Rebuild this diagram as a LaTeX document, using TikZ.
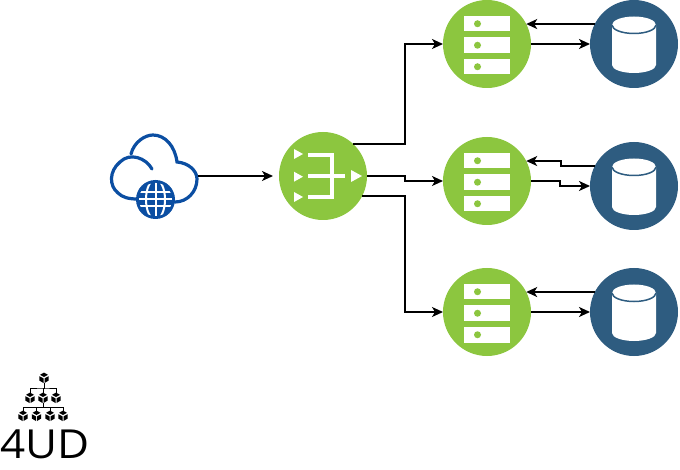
\documentclass[tikz,border=0pt]{standalone}
\usepackage{fontspec}
\newfontfamily\logofont{Open Sans}
\usetikzlibrary{positioning,arrows.meta}
\definecolor{srvgreen}{HTML}{8CC63F}
\definecolor{dbblue}{HTML}{2E5C80}
\definecolor{cloudblue}{HTML}{0B4EA2}
\tikzset{
  srvdisc/.style={circle, fill=srvgreen, minimum size=88pt, inner sep=0pt, outer sep=0pt},
  dbdisc/.style={circle, fill=dbblue, minimum size=88pt, inner sep=0pt, outer sep=0pt},
  link/.style={-{Stealth[length=11pt,width=10pt,inset=3pt]}, line width=1.6pt, black},
  treeline/.style={line width=0.9pt, black},
  treenode/.style={circle, minimum size=10pt, inner sep=0pt, outer sep=0pt}
}
% three white slots with a dot
\newcommand{\ServerIcon}[1]{
  \begin{scope}[shift={(#1)}, y=-1pt]
    \foreach \slot in {-28,-6.5,15}{
      \fill[white] (-23,\slot) rectangle (23,\slot+15.5);
      \fill[srvgreen] (-9.5,\slot+7.75) circle (3.5);
    }
  \end{scope}
}
% white cylinder
\newcommand{\DbIcon}[1]{
  \begin{scope}[shift={(#1)}, y=-1pt]
    \fill[white] (-22,-19) arc[start angle=180, end angle=360, x radius=22, y radius=8.5]
      -- (22,21) arc[start angle=0, end angle=180, x radius=22, y radius=8] -- cycle;
    \draw[dbblue, line width=1.5pt] (-22,-19) arc[start angle=180, end angle=0, x radius=22, y radius=8.5];
  \end{scope}
}
% small cube of the logo
\newcommand{\TreeCube}[1]{
  \begin{scope}[shift={(#1)}, x=1pt, y=1pt]
    \fill[black] (0,5.4) -- (4,3.2) -- (0,1) -- (-4,3.2) -- cycle;
    \fill[black] (-4.6,1.8) -- (-0.5,-0.4) -- (-0.5,-5) -- (-4.6,-2.6) -- cycle;
    \fill[black] (4.6,1.8) -- (0.5,-0.4) -- (0.5,-5) -- (4.6,-2.6) -- cycle;
  \end{scope}
}
\begin{document}
\begin{tikzpicture}[x=1pt, y=1pt]
  \useasboundingbox (0,0) rectangle (680,469);

  % balancer and servers
  \node[srvdisc](Balancer) at (323,293){};
  \node[srvdisc, right=76pt of Balancer, yshift=-5pt](SrvB){};
  \node[srvdisc, above=49pt of SrvB](SrvA){};
  \node[srvdisc, below=43pt of SrvB](SrvC){};

  % databases
  \node[dbdisc, right=59pt of SrvA](DbA){};
  \node[dbdisc, right=59pt of SrvB, yshift=-5pt](DbB){};
  \node[dbdisc, right=59pt of SrvC](DbC){};

  \ServerIcon{SrvA}
  \ServerIcon{SrvB}
  \ServerIcon{SrvC}
  \DbIcon{DbA}
  \DbIcon{DbB}
  \DbIcon{DbC}

  % balancer icon
  \begin{scope}[shift={(Balancer)}, y=-1pt]
    \foreach \row in {-22,0.7,21}{
      \fill[white] (-29,\row-5) -- (-20,\row) -- (-29,\row+5) -- cycle;
    }
    \fill[white] (28,-6) -- (39,0) -- (28,6) -- cycle;
    \draw[white, line width=4pt] (-15,-20.5) -- (9,-20.5) -- (9,21) -- (-15,21);
    \draw[white, line width=4pt] (-15,0) -- (22,0);
  \end{scope}

  % cloud
  \node[minimum width=86pt, minimum height=84pt, inner sep=0pt, outer sep=0pt](Cloud) at (155,293){};
  \begin{scope}[shift={(0,469)}, y=-1pt]
    \draw[cloudblue, line width=3.2pt, line cap=round]
      (152,169) .. controls (146,158) and (130,152) .. (120,162)
      .. controls (109,171) and (109,186) .. (118,193)
      .. controls (122,197) and (128,199) .. (137,199);
    \draw[cloudblue, line width=3.2pt, line cap=round]
      (131,154) .. controls (134,142) and (145,135) .. (153,135)
      .. controls (165,135) and (175,146) .. (177,162)
      .. controls (189,163) and (197,171) .. (197,179)
      .. controls (197,192) and (187,202) .. (175,202);
    \fill[cloudblue] (155.5,199.5) circle (19.5);
    \begin{scope}
      \clip (155.5,199.5) circle (16.5);
      \draw[white, line width=2pt] (155.5,180) -- (155.5,219);
      \draw[white, line width=2pt] (155.5,199.5) ellipse (9.5 and 20);
      \foreach \lat in {-7,0,7}{
        \draw[white, line width=2pt] (135,199.5+\lat) -- (176,199.5+\lat);
      }
    \end{scope}
  \end{scope}

  % connectors
  \coordinate (BendA) at (405,350);
  \coordinate (BendB) at (405,291);
  \coordinate (BendC) at (405,230);
  \coordinate (StepUp) at (561,305);
  \coordinate (StepDown) at (560,285);
  \draw[link, shorten >=6pt] (Cloud.east) -- (Balancer.west);
  \draw[link] (Balancer.47) -| (BendA) |- (SrvA.west);
  \draw[link] (Balancer.east) -| (BendB) |- (SrvB.west);
  \draw[link] (Balancer.-27) -| (BendC) |- (SrvC.west);
  \draw[link] (DbA.153) -- (SrvA.27);
  \draw[link] (SrvA.east) -- (DbA.west);
  \draw[link] (DbB.153) -| (StepUp) |- (SrvB.27);
  \draw[link] (SrvB.east) -| (StepDown) |- (DbB.west);
  \draw[link] (DbC.153) -- (SrvC.27);
  \draw[link] (SrvC.east) -- (DbC.west);

  % logo
  \node[treenode](TreeTop) at (44,91){};
  \node[treenode](TreeL) at (30,71){};
  \node[treenode](TreeM) at (43,71){};
  \node[treenode](TreeR) at (56,71){};
  \node[treenode](LeafA) at (23,53){};
  \node[treenode](LeafB) at (36.5,53){};
  \node[treenode](LeafC) at (50,53){};
  \node[treenode](LeafD) at (63,53){};
  \coordinate (BarUp) at (43,81);
  \coordinate (BarLow) at (43,62);
  \foreach \kid in {TreeL,TreeM,TreeR}{
    \draw[treeline] (TreeTop.south) |- (BarUp) -| (\kid.north);
  }
  \draw[treeline] (TreeM.south) -- (BarLow);
  \foreach \kid in {LeafA,LeafB,LeafC,LeafD}{
    \draw[treeline] (BarLow) -| (\kid.north);
  }
  \foreach \cube in {TreeTop,TreeL,TreeM,TreeR,LeafA,LeafB,LeafC,LeafD}{
    \TreeCube{\cube}
  }
  \node[anchor=base west, inner sep=0pt, font=\logofont\fontsize{40}{40}\selectfont, xscale=1.1](Logo) at (0,11){4UD};
\end{tikzpicture}
\end{document}
